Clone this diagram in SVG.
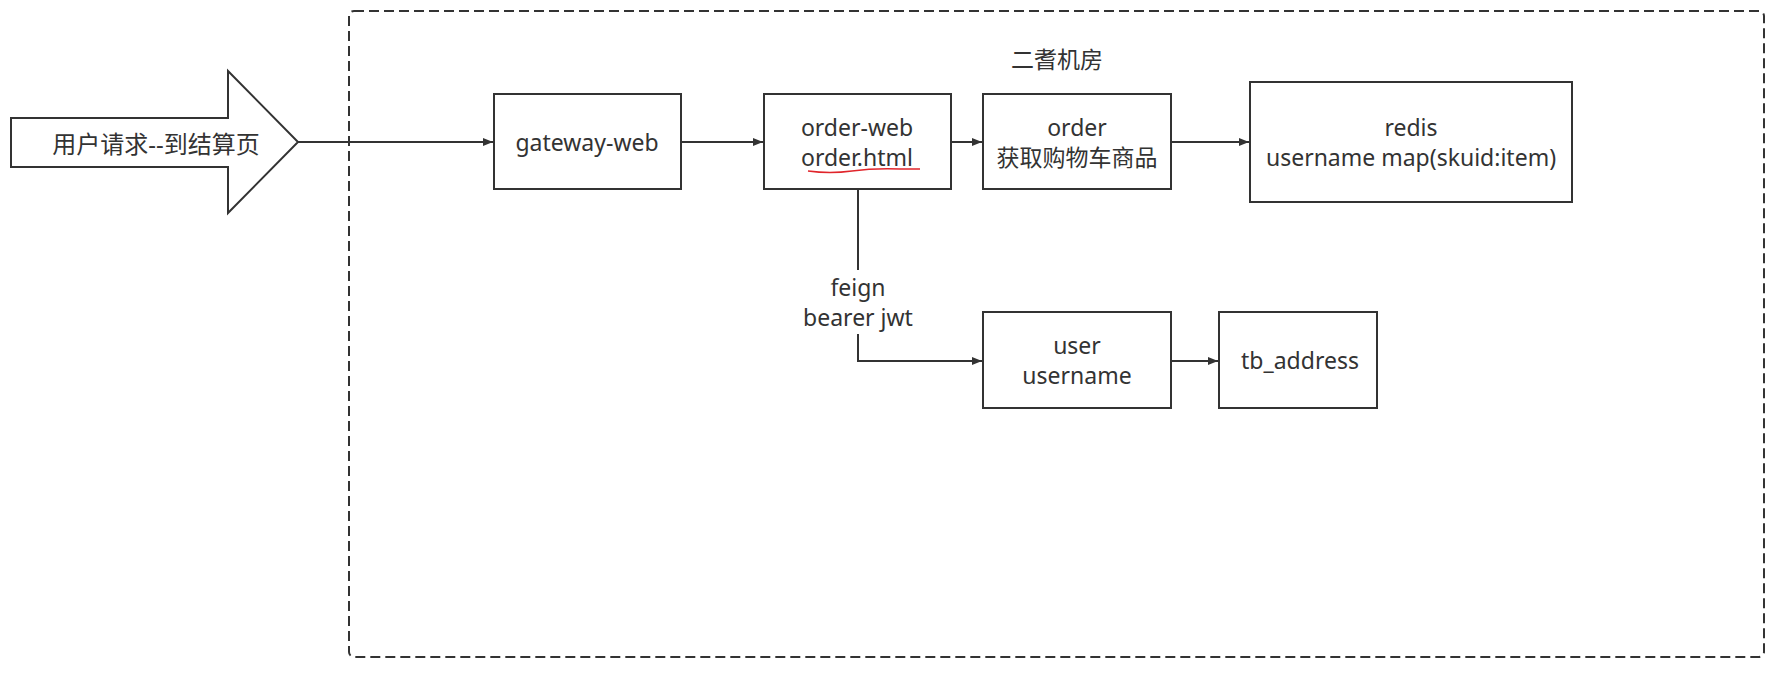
<svg xmlns="http://www.w3.org/2000/svg" width="1777" height="677" viewBox="0 0 1777 677">
<defs>
<style>
.box{fill:#fff;stroke:#333;stroke-width:2}
.ln{fill:none;stroke:#333;stroke-width:2}
.t{font-family:"Noto Sans","Open Sans","Noto Sans CJK SC",sans-serif;font-size:23px;fill:#333;text-anchor:middle;dominant-baseline:central}
.c{font-size:24px}
</style>
<marker id="ah" viewBox="0 0 10 10" refX="10" refY="5" markerWidth="12" markerHeight="10" markerUnits="userSpaceOnUse" orient="auto">
<path d="M0,1 L10,5 L0,9 Z" fill="#333"/>
</marker>
</defs>
<rect width="1777" height="677" fill="#fff"/>
<g id="container">
<rect x="349" y="11" width="1415" height="646" rx="5" fill="none" stroke="#333" stroke-width="2" stroke-dasharray="10 5"/>
<text class="t" x="1057" y="59">二耆机房</text>
</g>
<g id="request">
<polygon class="box" points="11,118 228,118 228,71 298,142 228,213 228,167 11,167"/>
<text class="t c" x="156" y="143">用户请求--到结算页</text>
</g>
<g id="connectors">
<line class="ln" x1="298" y1="142" x2="493" y2="142" marker-end="url(#ah)"/>
<line class="ln" x1="681" y1="142" x2="763" y2="142" marker-end="url(#ah)"/>
<line class="ln" x1="951" y1="142" x2="982" y2="142" marker-end="url(#ah)"/>
<line class="ln" x1="1171" y1="142" x2="1249" y2="142" marker-end="url(#ah)"/>
<path class="ln" d="M858,189 V270"/>
<path class="ln" d="M858,334 V361 H982" marker-end="url(#ah)"/>
<line class="ln" x1="1171" y1="361" x2="1218" y2="361" marker-end="url(#ah)"/>
<text class="t" x="858" y="287">feign</text>
<text class="t" x="858" y="317">bearer jwt</text>
</g>
<g id="gateway-web">
<rect class="box" x="494" y="94" width="187" height="95"/>
<text class="t" x="587" y="142">gateway-web</text>
</g>
<g id="order-web">
<rect class="box" x="764" y="94" width="187" height="95"/>
<text class="t" x="857" y="127">order-web</text>
<text class="t" x="857" y="157">order.html</text>
<path d="M808,171 Q830,174 852,171 T900,169 L920,169" fill="none" stroke="#e0252b" stroke-width="1.3"/>
</g>
<g id="order">
<rect class="box" x="983" y="94" width="188" height="95"/>
<text class="t" x="1077" y="127">order</text>
<text class="t" x="1077" y="157">获取购物车商品</text>
</g>
<g id="redis">
<rect class="box" x="1250" y="82" width="322" height="120"/>
<text class="t" x="1411" y="127">redis</text>
<text class="t" x="1411" y="157">username map(skuid:item)</text>
</g>
<g id="user">
<rect class="box" x="983" y="312" width="188" height="96"/>
<text class="t" x="1077" y="345">user</text>
<text class="t" x="1077" y="375">username</text>
</g>
<g id="tb_address">
<rect class="box" x="1219" y="312" width="158" height="96"/>
<text class="t" x="1300" y="360">tb_address</text>
</g>
</svg>
